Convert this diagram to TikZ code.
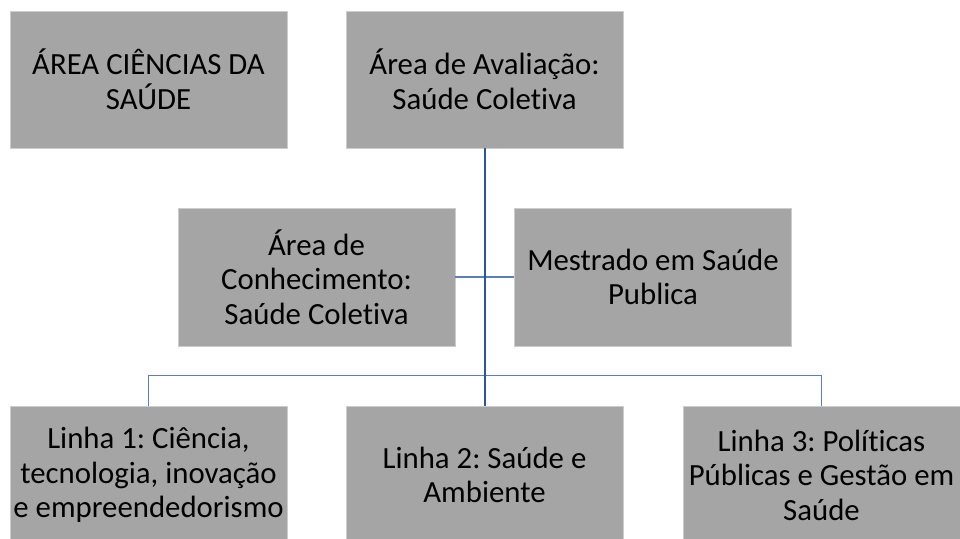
\documentclass[tikz,border=0pt]{standalone}
\usepackage{fontspec}
\setmainfont{Carlito}[Ligatures=NoCommon]
\usepackage{tikz}
\frenchspacing
\definecolor{cinza}{HTML}{A5A5A5}
\definecolor{azulescuro}{HTML}{2E54A1}
\definecolor{azulclaro}{HTML}{5A7EC0}
\tikzset{
  caixa/.style={rectangle, fill=cinza, draw=gray!40, line width=.6pt, minimum width=277pt, minimum height=138pt, align=center, font=\fontsize{30.8}{34.5}\selectfont, inner sep=0pt},
  tronco/.style={draw=azulescuro, line width=2pt},
  ramo/.style={draw=azulclaro, line width=1.5pt}
}
\begin{document}
\begin{tikzpicture}[x=1pt, y=-1pt]

\useasboundingbox[fill=white] (0,0) rectangle (960,538);

\node[caixa, minimum height=137pt] (ciencias) at (148.5,79.5) {ÁREA CIÊNCIAS DA\\SAÚDE};

\node[caixa, minimum height=137pt] (avaliacao) at (484.5,79.5) {Área de Avaliação:\\Saúde Coletiva};

\node[caixa] (conhecimento) at (316.5,277) {Área de\\Conhecimento:\\Saúde Coletiva};

\node[caixa] (mestrado) at (653,277) {Mestrado em Saúde\\Publica};

\node[caixa] (linha1) at (148.5,475) {Linha 1: Ciência,\\tecnologia, inovação\\e empreendedorismo};

\node[caixa] (linha2) at (484.5,475) {Linha 2: Saúde e\\Ambiente};

\node[caixa] (linha3) at (821.5,475) {Linha 3: Políticas\\Públicas e Gestão em\\Saúde};

\draw[ramo] (conhecimento.east) -- (mestrado.west);

\draw[ramo] (linha1.north) -- ++(0,-30) -| (linha3.north);

\draw[tronco] (avaliacao.south) -- (linha2.north);

\end{tikzpicture}
\end{document}
